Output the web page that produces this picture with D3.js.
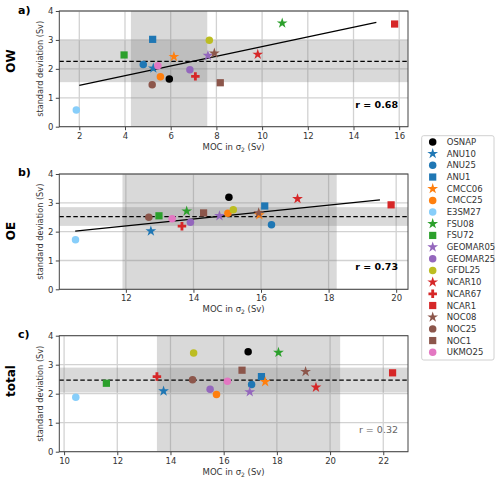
<!DOCTYPE html>
<html>
<head>
<meta charset="utf-8">
<script src="https://cdn.jsdelivr.net/npm/d3@7"></script>
<style>
  body { margin: 0; background: #fff; }
  svg { font-family: "DejaVu Sans", sans-serif; }
</style>
</head>
<body>
<div id="chart"></div>
<script>
// Model names, marker colours and shapes
const models = ["OSNAP", "ANU10", "ANU25", "ANU1", "CMCC06", "CMCC25", "E3SM27", "FSU08", "FSU72",
  "GEOMAR05", "GEOMAR25", "GFDL25", "NCAR10", "NCAR67", "NCAR1", "NOC08", "NOC25", "NOC1", "UKMO25"];
const colors = ["#000000", "#1f77b4", "#1f77b4", "#1f77b4", "#ff7f0e", "#ff7f0e", "#87cefa", "#2ca02c", "#2ca02c",
  "#9467bd", "#9467bd", "#bcbd22", "#d62728", "#d62728", "#d62728", "#8c564b", "#8c564b", "#8c564b", "#e377c2"];
const shapes = ["circle", "star", "circle", "square", "star", "circle", "circle", "star", "square",
  "star", "circle", "circle", "star", "plus", "square", "star", "circle", "square", "circle"];

// a) OW
const owX = [5.94, 5.24, 4.80, 5.21, 6.14, 5.55, 1.87, 10.88, 3.96, 7.63, 6.84, 7.69, 9.81, 7.08, 15.8, 7.91, 5.19, 8.17, 5.44];
const owY = [1.65, 2.02, 2.15, 3.02, 2.42, 1.73, 0.58, 3.58, 2.48, 2.46, 1.97, 2.99, 2.50, 1.74, 3.55, 2.54, 1.45, 1.52, 2.11];
const owTicks = [2, 4, 6, 8, 10, 12, 14, 16];
const owBandX = [4.26, 7.60];
const owBandY = [1.54, 2.99];
const owMean = 2.26;
const owFitX = [2, 15];
const owFitY = [1.43, 3.61];

// b) OE
const oeX = [15.05, 12.74, 16.31, 16.11, 15.95, 15.02, 10.51, 13.80, 12.98, 14.77, 13.91, 15.18, 17.08, 13.66, 19.85, 15.93, 12.68, 14.30, 13.37];
const oeY = [3.19, 2.02, 2.24, 2.89, 2.58, 2.64, 1.72, 2.71, 2.55, 2.55, 2.33, 2.76, 3.14, 2.19, 2.93, 2.65, 2.50, 2.65, 2.45];
const oeTicks = [12, 14, 16, 18, 20];
const oeBandX = [11.9, 18.24];
const oeBandY = [2.20, 2.85];
const oeMean = 2.52;
const oeFitX = [10.5, 19.52];
const oeFitY = [2.02, 3.10];

// c) total
const totX = [16.92, 13.74, 17.05, 17.42, 17.56, 15.73, 10.44, 18.06, 11.59, 16.98, 15.49, 14.87, 19.47, 13.49, 22.35, 19.08, 14.83, 16.69, 16.14];
const totY = [3.45, 2.09, 2.32, 2.59, 2.41, 1.97, 1.88, 3.42, 2.36, 2.06, 2.15, 3.40, 2.22, 2.59, 2.72, 2.76, 2.48, 2.81, 2.43];
const totTicks = [10, 12, 14, 16, 18, 20, 22];
const totBandX = [13.49, 20.38];
const totBandY = [2.04, 2.90];
const totMean = 2.47;

const yTicks = [0, 1, 2, 3, 4];

const panels = [
  { tag: "a)", name: "OW", top: 11, bottom: 126.7, xDom: [1.125, 16.385], ticks: owTicks,
    xs: owX, ys: owY, bandX: owBandX, bandY: owBandY, mean: owMean, fitX: owFitX, fitY: owFitY,
    r: "r = 0.68", rBold: true, nameY: 61, tagY: 14 },
  { tag: "b)", name: "OE", top: 174, bottom: 289.3, xDom: [10.03, 20.35], ticks: oeTicks,
    xs: oeX, ys: oeY, bandX: oeBandX, bandY: oeBandY, mean: oeMean, fitX: oeFitX, fitY: oeFitY,
    r: "r = 0.73", rBold: true, nameY: 231, tagY: 176 },
  { tag: "c)", name: "total", top: 335.7, bottom: 451.7, xDom: [9.82, 22.93], ticks: totTicks,
    xs: totX, ys: totY, bandX: totBandX, bandY: totBandY, mean: totMean, fitX: null, fitY: null,
    r: "r = 0.32", rBold: false, nameY: 381, tagY: 338 }
];

const left = 59.3, right = 408;

const svg = d3.select("#chart").append("svg")
  .attr("width", 500)
  .attr("height", 481);

// marker path for each shape
const symbolFor = s => {
  if (s === "star") return d3.symbol(d3.symbolStar, 36)();
  if (s === "square") return d3.symbol(d3.symbolSquare, 52)();
  if (s === "plus") return d3.symbol(d3.symbolCross, 40)();
  return d3.symbol(d3.symbolCircle, 44)();
};

panels.forEach(p => {
  const x = d3.scaleLinear().domain(p.xDom).range([left, right]);
  const y = d3.scaleLinear().domain([0, 4]).range([p.bottom, p.top]);
  const g = svg.append("g");

  // grid
  g.selectAll(".vgrid").data(p.ticks).enter().append("line")
    .attr("x1", d => x(d)).attr("x2", d => x(d))
    .attr("y1", p.top).attr("y2", p.bottom)
    .attr("stroke", "#d2d2d2").attr("stroke-width", 1.3);
  g.selectAll(".hgrid").data(yTicks).enter().append("line")
    .attr("x1", left).attr("x2", right)
    .attr("y1", d => y(d)).attr("y2", d => y(d))
    .attr("stroke", "#d2d2d2").attr("stroke-width", 1.3);

  // shaded ranges
  const bx0 = Math.max(x(p.bandX[0]), left), bx1 = Math.min(x(p.bandX[1]), right);
  g.append("rect")
    .attr("x", bx0).attr("width", bx1 - bx0)
    .attr("y", p.top).attr("height", p.bottom - p.top)
    .attr("fill", "#808080").attr("fill-opacity", 0.3);
  g.append("rect")
    .attr("x", left).attr("width", right - left)
    .attr("y", y(p.bandY[1])).attr("height", y(p.bandY[0]) - y(p.bandY[1]))
    .attr("fill", "#808080").attr("fill-opacity", 0.3);

  // mean
  g.append("line")
    .attr("x1", left).attr("x2", right)
    .attr("y1", y(p.mean)).attr("y2", y(p.mean))
    .attr("stroke", "#000").attr("stroke-width", 1.3)
    .attr("stroke-dasharray", "4.5,2.5");

  // regression line
  if (p.fitX) {
    g.append("path")
      .datum(p.fitX.map((v, i) => [v, p.fitY[i]]))
      .attr("d", d3.line().x(d => x(d[0])).y(d => y(d[1])))
      .attr("stroke", "#000").attr("stroke-width", 1.3).attr("fill", "none");
  }

  // points
  g.selectAll(".pt").data(models).enter().append("path")
    .attr("d", (d, i) => symbolFor(shapes[i]))
    .attr("transform", (d, i) => `translate(${x(p.xs[i])},${y(p.ys[i])})`)
    .attr("fill", (d, i) => colors[i]);

  // axes
  const xa = g.append("g")
    .attr("transform", `translate(0,${p.bottom})`)
    .call(d3.axisBottom(x).tickValues(p.ticks).tickSize(3.5).tickPadding(2.5).tickFormat(d3.format("d")));
  const ya = g.append("g")
    .attr("transform", `translate(${left},0)`)
    .call(d3.axisLeft(y).tickValues(yTicks).tickSize(3.5).tickPadding(2.5).tickFormat(d3.format("d")));
  [xa, ya].forEach(a => {
    a.select(".domain").remove();
    a.selectAll("line").attr("stroke", "#444");
    a.selectAll("text").attr("fill", "#333").style("font-size", "8.5px").style("font-family", "DejaVu Sans");
  });

  // frame
  g.append("rect")
    .attr("x", left).attr("y", p.top)
    .attr("width", right - left).attr("height", p.bottom - p.top)
    .attr("fill", "none").attr("stroke", "#444").attr("stroke-width", 1);

  // labels
  g.append("text")
    .attr("x", (left + right) / 2).attr("y", p.bottom + 23)
    .attr("text-anchor", "middle").attr("fill", "#333").style("font-size", "8.5px")
    .html('MOC in σ<tspan dy="2" font-size="6px">2</tspan><tspan dy="-2"> (Sv)</tspan>');
  g.append("text")
    .attr("transform", `translate(43,${(p.top + p.bottom) / 2}) rotate(-90)`)
    .attr("text-anchor", "middle").attr("fill", "#333").style("font-size", "8.2px")
    .text("standard deviation (Sv)");
  g.append("text")
    .attr("transform", `translate(15,${p.nameY}) rotate(-90)`)
    .attr("text-anchor", "middle").attr("font-weight", "bold").style("font-size", "12px")
    .text(p.name);
  g.append("text")
    .attr("x", 18).attr("y", p.tagY)
    .attr("font-weight", "bold").style("font-size", "11px")
    .text(p.tag);
  g.append("text")
    .attr("x", 398).attr("y", p.bottom - 19)
    .attr("text-anchor", "end")
    .attr("font-weight", p.rBold ? "bold" : "normal")
    .attr("fill", p.rBold ? "#000" : "#666")
    .style("font-size", "9.5px")
    .text(p.r);
});

// legend
const lg = svg.append("g");
lg.append("rect")
  .attr("x", 421.7).attr("y", 135.7).attr("width", 72.3).attr("height", 224.3)
  .attr("rx", 2).attr("fill", "#fff").attr("stroke", "#d0d0d0");
const row = lg.selectAll(".row").data(models).enter().append("g")
  .attr("transform", (d, i) => `translate(432.7,${142 + i * 11.68})`);
row.append("path")
  .attr("d", (d, i) => symbolFor(shapes[i]))
  .attr("fill", (d, i) => colors[i]);
row.append("text")
  .attr("x", 14).attr("dy", "0.35em")
  .attr("fill", "#333").style("font-size", "8.5px")
  .text(d => d);
</script>
</body>
</html>
